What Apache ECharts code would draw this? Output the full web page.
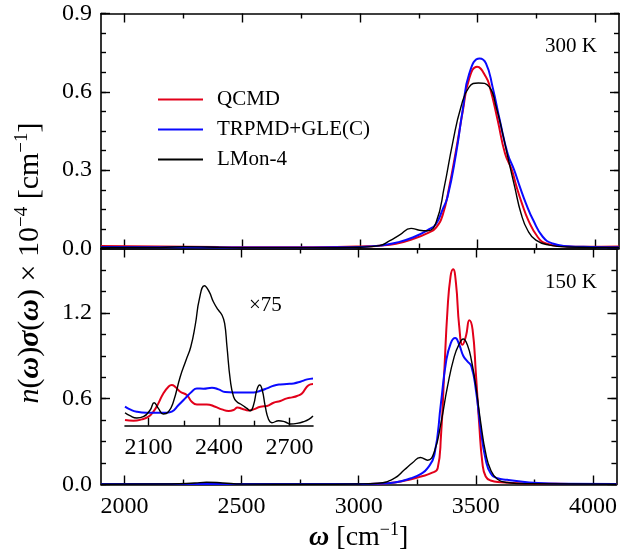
<!DOCTYPE html>
<html><head><meta charset="utf-8">
<script src="https://cdn.jsdelivr.net/npm/echarts@6/dist/echarts.min.js"></script>
<style>html,body{margin:0;padding:0;background:#fff}#c{width:620px;height:554px}</style>
</head><body><div id="c"></div>
<script>
// ---------- data ----------
const seriesNames = ['QCMD', 'TRPMD+GLE(C)', 'LMon-4'];
const xMajorTicks = [2000, 2500, 3000, 3500, 4000];
const xMinorTicks = [2250, 2750, 3250, 3750];
const insetMajorTicks = [2100, 2400, 2700];
const insetMinorTicks = [2250, 2550];

// 300 K panel
const w300Red = [1900, 2150, 2400, 2700, 2900, 3000, 3082, 3153, 3224, 3294, 3323, 3351, 3379, 3408, 3436, 3464, 3497, 3535, 3552, 3585, 3616, 3645, 3665, 3688, 3715, 3754, 3790, 3861, 3950, 4100];
const i300Red = [0.010, 0.008, 0.006, 0.005, 0.006, 0.008, 0.011, 0.018, 0.036, 0.062, 0.080, 0.128, 0.236, 0.377, 0.523, 0.651, 0.696, 0.657, 0.617, 0.490, 0.364, 0.300, 0.236, 0.172, 0.108, 0.045, 0.019, 0.009, 0.007, 0.008];
const w300Blue = [1900, 2150, 2400, 2700, 2900, 3000, 3082, 3153, 3224, 3294, 3323, 3351, 3372, 3408, 3436, 3464, 3508, 3535, 3563, 3594, 3627, 3655, 3679, 3705, 3736, 3776, 3818, 3880, 3980, 4100];
const i300Blue = [0.006, 0.005, 0.004, 0.004, 0.005, 0.006, 0.011, 0.022, 0.042, 0.074, 0.094, 0.150, 0.198, 0.364, 0.530, 0.670, 0.728, 0.709, 0.619, 0.490, 0.364, 0.300, 0.236, 0.172, 0.108, 0.045, 0.019, 0.009, 0.006, 0.005];
const w300Black = [1900, 2150, 2250, 2350, 2500, 2800, 3000, 3082, 3125, 3167, 3217, 3252, 3287, 3323, 3358, 3393, 3429, 3464, 3503, 3549, 3578, 3606, 3631, 3657, 3684, 3712, 3747, 3804, 3880, 4100];
const i300Black = [0.004, 0.004, 0.007, 0.006, 0.003, 0.003, 0.005, 0.011, 0.029, 0.051, 0.077, 0.070, 0.068, 0.100, 0.236, 0.402, 0.543, 0.619, 0.634, 0.619, 0.543, 0.440, 0.338, 0.236, 0.134, 0.070, 0.032, 0.013, 0.006, 0.004];

// 150 K panel
const w150Red = [1900, 2300, 2700, 3000, 3082, 3153, 3224, 3266, 3309, 3337, 3351, 3365, 3379, 3392, 3403, 3415, 3429, 3443, 3458, 3472, 3486, 3500, 3514, 3528, 3542, 3563, 3606, 3719, 3900, 4100];
const i150Red = [0.003, 0.003, 0.003, 0.003, 0.005, 0.014, 0.037, 0.056, 0.079, 0.114, 0.336, 0.780, 1.222, 1.455, 1.505, 1.409, 1.106, 0.977, 1.040, 1.148, 1.082, 0.779, 0.429, 0.149, 0.056, 0.028, 0.016, 0.007, 0.004, 0.003];
const w150Blue = [1900, 2300, 2700, 3000, 3082, 3153, 3224, 3266, 3294, 3323, 3351, 3372, 3393, 3412, 3429, 3446, 3464, 3481, 3500, 3521, 3542, 3563, 3592, 3634, 3691, 3747, 3861, 4100];
const i150Blue = [0.004, 0.004, 0.004, 0.004, 0.006, 0.014, 0.044, 0.075, 0.114, 0.208, 0.569, 0.849, 0.989, 1.024, 0.977, 0.900, 0.861, 0.826, 0.662, 0.383, 0.173, 0.079, 0.044, 0.033, 0.021, 0.012, 0.005, 0.003];
const w150Black = [1900, 2200, 2300, 2350, 2420, 2500, 2800, 3000, 3082, 3153, 3195, 3231, 3263, 3294, 3323, 3351, 3379, 3408, 3429, 3446, 3464, 3482, 3500, 3521, 3542, 3563, 3592, 3634, 3719, 4100];
const i150Black = [0.002, 0.003, 0.010, 0.016, 0.011, 0.003, 0.002, 0.004, 0.009, 0.044, 0.103, 0.154, 0.189, 0.170, 0.231, 0.429, 0.686, 0.896, 0.982, 1.017, 0.975, 0.860, 0.686, 0.429, 0.219, 0.103, 0.037, 0.014, 0.005, 0.002];

// inset (x75)
const wInsetRed = [2000, 2036, 2071, 2100, 2121, 2142, 2163, 2185, 2199, 2213, 2235, 2263, 2284, 2306, 2348, 2384, 2412, 2441, 2462, 2479, 2498, 2526, 2547, 2576, 2604, 2632, 2661, 2689, 2711, 2732, 2753, 2774, 2789, 2800];
const iInsetRed = [0.057, 0.050, 0.063, 0.090, 0.140, 0.223, 0.323, 0.390, 0.407, 0.390, 0.340, 0.307, 0.240, 0.213, 0.213, 0.190, 0.163, 0.147, 0.157, 0.183, 0.170, 0.153, 0.163, 0.190, 0.197, 0.230, 0.247, 0.273, 0.283, 0.297, 0.323, 0.390, 0.413, 0.417];
const wInsetBlue = [2000, 2021, 2050, 2092, 2135, 2178, 2199, 2228, 2256, 2284, 2306, 2334, 2370, 2398, 2426, 2462, 2505, 2547, 2576, 2604, 2632, 2661, 2689, 2718, 2746, 2775, 2800];
const iInsetBlue = [0.190, 0.163, 0.140, 0.130, 0.130, 0.130, 0.140, 0.207, 0.273, 0.340, 0.373, 0.370, 0.380, 0.363, 0.337, 0.333, 0.333, 0.333, 0.350, 0.373, 0.400, 0.413, 0.417, 0.423, 0.440, 0.463, 0.473];
const wInsetBlack = [2000, 2021, 2050, 2078, 2107, 2124, 2142, 2163, 2185, 2206, 2235, 2260, 2280, 2299, 2317, 2338, 2358, 2376, 2396, 2412, 2424, 2434, 2448, 2462, 2476, 2498, 2519, 2533, 2547, 2561, 2573, 2584, 2597, 2611, 2625, 2654, 2682, 2704, 2732, 2760, 2782, 2800];
const iInsetBlack = [0.130, 0.100, 0.077, 0.090, 0.157, 0.230, 0.173, 0.117, 0.140, 0.240, 0.490, 0.657, 0.790, 1.007, 1.273, 1.400, 1.340, 1.240, 1.160, 1.110, 1.023, 0.790, 0.457, 0.290, 0.240, 0.207, 0.173, 0.150, 0.207, 0.357, 0.407, 0.357, 0.190, 0.063, 0.030, 0.050, 0.037, 0.017, 0.023, 0.040, 0.063, 0.097];

// ---------- styling ----------
const FONT = 'Liberation Serif';
const RED = '#e2001a', BLUE = '#0a0aff', BLACK = '#000000';
const AXW = 1.6;
const TICKFS = 24;
const zip = (a, b) => a.map((v, i) => [v, b[i]]);

function xAx(grid, pos, ticks, len, labels, line, extra) {
  return Object.assign({
    type: 'value', gridIndex: grid, position: pos, min: 1900, max: 4100,
    axisLine: { show: line, onZero: false, lineStyle: { color: '#000', width: AXW } },
    axisTick: { show: true, inside: true, length: len, customValues: ticks, lineStyle: { color: '#000', width: 1.4 } },
    axisLabel: labels ? { show: true, customValues: ticks, fontFamily: FONT, fontSize: TICKFS, color: '#000', margin: 10, formatter: v => String(v) } : { show: false },
    splitLine: { show: false }
  }, extra || {});
}
function yAx(grid, pos, max, interval, len, labels, line) {
  return {
    type: 'value', gridIndex: grid, position: pos, min: 0, max: max, interval: interval,
    axisLine: { show: line, onZero: false, lineStyle: { color: '#000', width: AXW } },
    axisTick: { show: true, inside: true, length: len, lineStyle: { color: '#000', width: 1.4 } },
    axisLabel: labels ? { show: true, fontFamily: FONT, fontSize: TICKFS, color: '#000', margin: 9, showMaxLabel: max === 0.9, formatter: v => v.toFixed(1) } : { show: false },
    splitLine: { show: false }
  };
}
function ln(name, color, width, xi, yi, w, v) {
  return { name: name, type: 'line', xAxisIndex: xi, yAxisIndex: yi, data: zip(w, v), showSymbol: false, symbol: 'none',
    smooth: 0.5, lineStyle: { color: color, width: width }, itemStyle: { color: color }, clip: true, z: 3 };
}

const chart = echarts.init(document.getElementById('c'), null, { renderer: 'canvas' });
chart.setOption({
  animation: false,
  backgroundColor: '#fff',
  grid: [
    { left: 101, top: 13.5, width: 518, height: 235 },
    { left: 101, top: 248.5, width: 518, height: 236 },
    { left: 125, top: 270, width: 188, height: 155.7 }
  ],
  xAxis: [
    xAx(0, 'bottom', xMajorTicks, 9, false, true),
    xAx(0, 'bottom', xMinorTicks, 5, false, false),
    xAx(0, 'top', xMajorTicks, 9, false, true),
    xAx(0, 'top', xMinorTicks, 5, false, false),
    xAx(1, 'bottom', xMajorTicks, 9, true, true, {
      name: '{b|ω} [cm{s|−1}]', nameLocation: 'middle', nameGap: 37,
      nameTextStyle: { fontFamily: FONT, fontSize: 28, color: '#000',
        rich: { b: { fontFamily: FONT, fontSize: 28, fontWeight: 'bold', fontStyle: 'italic' },
                s: { fontFamily: FONT, fontSize: 18, verticalAlign: 'top', lineHeight: 32 } } }
    }),
    xAx(1, 'bottom', xMinorTicks, 5, false, false),
    xAx(1, 'top', xMajorTicks, 9, false, true),
    xAx(1, 'top', xMinorTicks, 5, false, false),
    xAx(2, 'bottom', insetMajorTicks, 8, true, true, { min: 2000, max: 2800 }),
    xAx(2, 'bottom', insetMinorTicks, 5, false, false, { min: 2000, max: 2800 })
  ],
  yAxis: [
    yAx(0, 'left', 0.9, 0.3, 9, true, true),
    yAx(0, 'left', 0.9, 0.075, 5, false, false),
    yAx(0, 'right', 0.9, 0.3, 9, false, true),
    yAx(0, 'right', 0.9, 0.075, 5, false, false),
    yAx(1, 'left', 1.65, 0.6, 9, true, true),
    yAx(1, 'left', 1.65, 0.15, 5, false, false),
    yAx(1, 'right', 1.65, 0.6, 9, false, true),
    yAx(1, 'right', 1.65, 0.15, 5, false, false),
    { type: 'value', gridIndex: 2, min: 0, max: 1.557, show: false }
  ],
  legend: {
    data: seriesNames, orient: 'vertical', left: 158, top: 89, padding: 0,
    icon: 'rect', itemWidth: 45, itemHeight: 2, itemGap: 9,
    textStyle: { fontFamily: FONT, fontSize: 21, color: '#000', padding: [0, 0, 0, 9], lineHeight: 21 }
  },
  series: [
    ln(seriesNames[0], RED, 2, 0, 0, w300Red, i300Red),
    ln(seriesNames[1], BLUE, 2, 0, 0, w300Blue, i300Blue),
    ln(seriesNames[2], BLACK, 1.4, 0, 0, w300Black, i300Black),
    ln(seriesNames[0], RED, 2, 4, 4, w150Red, i150Red),
    ln(seriesNames[1], BLUE, 2, 4, 4, w150Blue, i150Blue),
    ln(seriesNames[2], BLACK, 1.4, 4, 4, w150Black, i150Black),
    ln(seriesNames[0], RED, 2, 8, 8, wInsetRed, iInsetRed),
    ln(seriesNames[1], BLUE, 2, 8, 8, wInsetBlue, iInsetBlue),
    ln(seriesNames[2], BLACK, 1.4, 8, 8, wInsetBlack, iInsetBlack)
  ],
  graphic: [
    { type: 'text', x: 597, y: 46, style: { text: '300 K', font: '21px "Liberation Serif"', fill: '#000', align: 'right', verticalAlign: 'middle' } },
    { type: 'text', x: 597, y: 282, style: { text: '150 K', font: '21px "Liberation Serif"', fill: '#000', align: 'right', verticalAlign: 'middle' } },
    { type: 'text', x: 249, y: 305, style: { text: '×75', font: '21px "Liberation Serif"', fill: '#000', align: 'left', verticalAlign: 'middle' } },
    { type: 'text', x: 30, y: 263, rotation: Math.PI / 2,
      style: { text: '{i|n}({b|ω}){b|σ}({b|ω}) × 10{s|−4} [cm{s|−1}]', font: '30px "Liberation Serif"', fill: '#000', align: 'center', verticalAlign: 'middle',
        rich: { i: { fontFamily: FONT, fontSize: 30, fontStyle: 'italic' },
                b: { fontFamily: FONT, fontSize: 30, fontWeight: 'bold', fontStyle: 'italic' },
                s: { fontFamily: FONT, fontSize: 19, verticalAlign: 'top', lineHeight: 34 } } } }
  ]
});
</script></body></html>
